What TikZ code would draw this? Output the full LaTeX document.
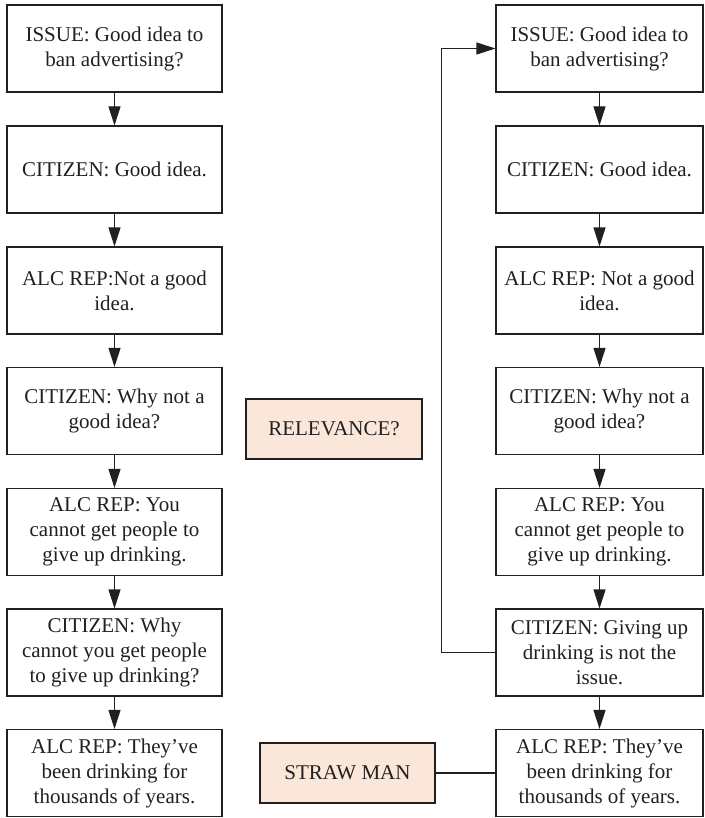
\documentclass[tikz,border=0pt]{standalone}
\usepackage{fontspec}
\setmainfont{Liberation Serif}
\newfontfamily\boxfont{Liberation Serif}
\usetikzlibrary{arrows.meta}
\definecolor{ink}{RGB}{35,31,32}
\definecolor{tan}{RGB}{250,231,218}
\tikzset{
  stepbox/.style={draw=ink, line width=1.1pt, align=center, text=ink,
    font=\boxfont\fontsize{21}{25}\selectfont, inner sep=0pt,
    minimum height=87pt},
  leftbox/.style={stepbox, minimum width=215pt},
  rightbox/.style={stepbox, minimum width=207pt},
  tagbox/.style={stepbox, fill=tan, minimum height=60pt},
  flow/.style={draw=ink, line width=1.1pt, -{Triangle[length=19pt,width=12pt]}},
  plain/.style={draw=ink, line width=1.1pt}
}
\begin{document}
\begin{tikzpicture}[x=1pt,y=-1pt]
\useasboundingbox (0,0) rectangle (704,818);

% left dialogue
\node[leftbox] (l1) at (114.5,48.5) {ISSUE: Good idea to\\ban advertising?};
\node[leftbox] (l2) at (114.5,169.5) {CITIZEN: Good idea.};
\node[leftbox] (l3) at (114.5,290.5) {ALC REP:Not a good\\idea.};
\node[leftbox] (l4) at (114.5,411) {CITIZEN: Why not a\\good idea?};
\node[leftbox] (l5) at (114.5,532) {ALC REP: You\\cannot get people to\\give up drinking.};
\node[leftbox] (l6) at (114.5,652.5) {CITIZEN: Why\\cannot you get people\\to give up drinking?};
\node[leftbox] (l7) at (114.5,773) {ALC REP: They’ve\\been drinking for\\thousands of years.};

% right dialogue
\node[rightbox] (r1) at (599.5,48.5) {ISSUE: Good idea to\\ban advertising?};
\node[rightbox] (r2) at (599.5,169.5) {CITIZEN: Good idea.};
\node[rightbox] (r3) at (599.5,290.5) {ALC REP: Not a good\\idea.};
\node[rightbox] (r4) at (599.5,411) {CITIZEN: Why not a\\good idea?};
\node[rightbox] (r5) at (599.5,532) {ALC REP: You\\cannot get people to\\give up drinking.};
\node[rightbox] (r6) at (599.5,652.5) {CITIZEN: Giving up\\drinking is not the\\issue.};
\node[rightbox] (r7) at (599.5,773) {ALC REP: They’ve\\been drinking for\\thousands of years.};

% labels
\node[tagbox, minimum width=176pt] (rel) at (334,429) {RELEVANCE?};
\node[tagbox, minimum width=175pt] (straw) at (347.5,773) {STRAW MAN};

% arrows down each column
\foreach \a/\b in {1/2,2/3,3/4,4/5,5/6,6/7}{
  \draw[flow] (l\a.south) -- (l\b.north);
  \draw[flow] (r\a.south) -- (r\b.north);
}

% loop back to the issue
\coordinate (back) at (441.5,0);
\draw[flow] (r6.west) -- (back |- r6.west) |- (r1.west);

% straw man link
\draw[plain] (straw.east) -- (r7.west);
\end{tikzpicture}
\end{document}
